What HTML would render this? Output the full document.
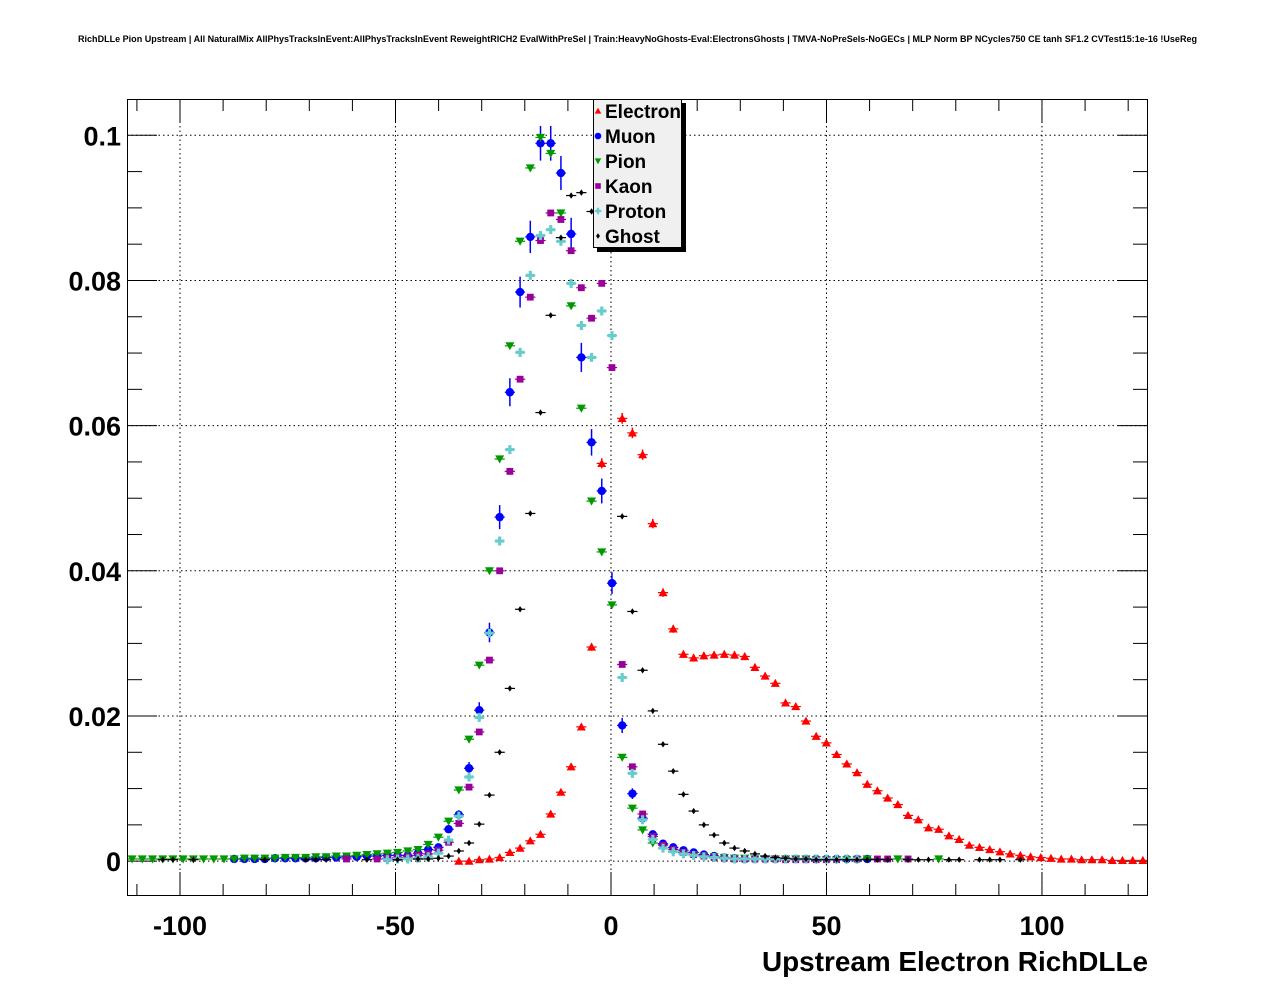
<!DOCTYPE html>
<html><head><meta charset="utf-8"><style>
html,body{margin:0;padding:0;background:#fff;}
svg{display:block;font-family:"Liberation Sans",sans-serif;}
</style></head><body>
<svg id="chart" width="1276" height="996" viewBox="0 0 1276 996" xmlns="http://www.w3.org/2000/svg">
<rect x="0" y="0" width="1276" height="996" fill="#fff"/>
<text x="78" y="42" font-size="9" font-weight="bold" textLength="1119" lengthAdjust="spacingAndGlyphs">RichDLLe Pion Upstream | All NaturalMix AllPhysTracksInEvent:AllPhysTracksInEvent ReweightRICH2 EvalWithPreSel | Train:HeavyNoGhosts-Eval:ElectronsGhosts | TMVA-NoPreSels-NoGECs | MLP Norm BP NCycles750 CE tanh SF1.2 CVTest15:1e-16 !UseReg</text>
<g id="grid"></g>
<g id="axes"></g>
<g id="marks"></g>
<rect x="127.5" y="99.5" width="1020" height="796" fill="none" stroke="#000" stroke-width="1"/>
<g id="legend">
<rect x="597" y="103" width="89" height="149" fill="#000"/>
<rect x="593.5" y="99.5" width="88" height="148" fill="#f0f0f0" stroke="#000"/>
</g>
<text x="1148" y="971" font-size="28" font-weight="bold" text-anchor="end" textLength="386" lengthAdjust="spacingAndGlyphs">Upstream Electron RichDLLe</text>
</svg>
<script>
// ---- data ----
const binCount = 100;
const xAxisMin = -112.3;
const xAxisMax = 124.6;
const yAxisMin = -0.0048;
const yAxisMax = 0.105;
const xTickValues = [-100, -50, 0, 50, 100];
const xTickLabels = ["-100", "-50", "0", "50", "100"];
const yTickValues = [0, 0.02, 0.04, 0.06, 0.08, 0.1];
const yTickLabels = ["0", "0.02", "0.04", "0.06", "0.08", "0.1"];
const seriesNames = ["Electron", "Muon", "Pion", "Kaon", "Proton", "Ghost"];

const electronStart = 32;
const electronValues = [0,0,0.0002,0.0003,0.0005,0.0012,0.0018,0.0028,0.0037,0.0065,0.0095,0.013,0.0185,0.0295,0.0548,null,
0.061,0.059,0.056,0.0465,0.037,0.032,0.0285,0.028,0.0283,0.0284,
0.0285,0.0284,0.0282,0.0267,0.0255,0.0245,0.0218,0.0213,0.0193,0.0172,
0.0163,0.0147,0.0134,0.0122,0.0106,0.0097,0.0087,0.0078,0.0063,0.0057,
0.0046,0.0044,0.0035,0.003,0.0022,0.0019,0.0016,0.0013,0.001,0.0008,
0.0006,0.0005,0.0004,0.0003,0.0003,0.0002,0.0002,0.0002,0.0001,0.0001,0.0001,0.0001];

const muonStart = 10;
const muonValues = [0.0003,0.0003,0.0003,0.0003,0.0004,0.0004,0.0004,0.0004,0.0004,0.0005,
0.0005,0.0006,0.0006,0.0007,0.0007,0.0008,0.0008,0.0008,0.0011,0.0016,
0.0019,0.0044,0.0064,0.0128,0.0208,0.0315,0.0474,0.0646,0.0784,0.086,
0.0989,0.0989,0.0948,0.0864,0.0694,0.0577,0.051,0.0383,0.0187,0.0093,
0.0059,0.0037,0.0024,0.0019,0.0015,0.0012,0.0009,0.0007,0.0005,0.0004,
0.0003,0.0003,0.0003,0.0003,0.0003,0.0003,0.0003,0.0003,0.0003,0.0003,0.0003,0.0003,0.0003];

const pionStart = 0;
const pionValues = [0.0003,0.0003,0.0003,0.0003,0.0003,0.0003,0.0003,0.0003,0.0003,0.0003,
0.0003,0.0004,0.0004,0.0004,0.0004,0.0005,0.0005,0.0005,0.0006,0.0006,
0.0007,0.0007,0.0008,0.0009,0.001,0.0011,0.0012,0.0014,0.0016,0.0023,
0.0033,0.0055,0.0098,0.0168,0.027,0.040,0.0554,0.071,0.0854,0.0955,
0.0997,0.0975,0.0893,0.0765,0.0624,0.0496,0.0426,0.0353,0.0143,0.0073,
0.0043,0.0025,0.0018,0.0013,0.001,0.0008,0.0007,0.0006,0.0005,0.0004,
0.0004,0.0003,0.0003,0.0003,0.0003,0.0003,0.0003,0.0002,0.0002,0.0002,
0.0002,0.0002,0.0003,null,null,0.0003,null,null,null,0.0003];

const kaonStart = 21;
const kaonValues = [0.0003,null,null,0.0003,0.0004,0.0005,0.0006,0.0008,0.001,
0.0015,0.0026,0.0052,0.0102,0.0178,0.0277,0.040,0.0537,0.0664,0.0777,
0.0855,0.0893,0.0884,0.0841,0.079,0.0748,0.0796,0.068,0.0271,0.013,
0.0065,0.0034,0.0022,0.0016,0.0012,0.0009,0.0007,0.0005,0.0004,0.0003,
0.0003,0.0003,0.0003,0.0003,0.0002,0.0002,0.0002,0.0002,0.0002,0.0002,
null,0.0003,null,0.0003,0.0003,null,0.0003];

const protonStart = 25;
const protonValues = [0.0002,0.0003,0.0003,0.0004,0.0006,
0.0011,0.0029,0.0062,0.0116,0.0198,0.0314,0.0441,0.0567,0.0701,0.0807,
0.0862,0.087,0.0854,0.0796,0.0738,0.0694,0.0758,0.0724,0.0253,0.0121,
0.0057,0.003,0.0018,0.0013,0.001,0.0008,0.0006,0.0005,0.0004,0.0003,
0.0003,0.0003,0.0003,0.0003,0.0003,0.0003,0.0003,0.0003,0.0003,0.0003,0.0003,0.0003];

const ghostStart = 3;
const ghostValues = [0.0002,0.0002,null,0.0002,null,null,null,null,null,null,
0.0002,null,null,null,0.0002,0.0002,0.0002,null,null,null,
0.0002,null,null,0.0002,null,0.0003,0.0003,0.0004,0.0007,0.0014,
0.0025,0.0051,0.0091,0.015,0.0238,0.0347,0.0479,0.0618,0.0752,0.0859,
0.0917,0.0921,0.0895,null,null,0.0475,0.0344,0.0263,0.0207,0.0161,
0.0124,0.0092,0.0069,0.005,0.0036,0.0025,0.0018,0.0014,0.001,0.0007,
0.0005,0.0004,0.0003,0.0003,0.0002,0.0002,0.0002,0.0002,0.0002,0.0002,
0.0002,0.0002,null,0.0002,0.0002,0.0002,null,0.0002,0.0002,null,
0.0002,0.0002,0.0002,null,0.0002];

// ---- layout ----
const NS = "http://www.w3.org/2000/svg";
const plotL = 127, plotR = 1148, plotT = 99, plotB = 896;
function xScale(v){ return plotL + (v - xAxisMin) / (xAxisMax - xAxisMin) * (plotR - plotL); }
function yScale(v){ return plotB - (v - yAxisMin) / (yAxisMax - yAxisMin) * (plotB - plotT); }
const binWidth = (xAxisMax - xAxisMin) / binCount;
function binCenter(i){ return xAxisMin + binWidth * (i + 0.5); }
function mk(tag, attrs, parent){
  const e = document.createElementNS(NS, tag);
  for (const k in attrs) e.setAttribute(k, attrs[k]);
  parent.appendChild(e);
  return e;
}
const grid = document.getElementById('grid');
const axes = document.getElementById('axes');
const marks = document.getElementById('marks');
const legend = document.getElementById('legend');

xTickValues.forEach(function(v){
  const l = mk('line', {x1:xScale(v), x2:xScale(v), y1:plotT, y2:plotB, stroke:'#000', 'stroke-width':1, 'stroke-dasharray':'1.5,3'}, grid);
  
  
});
yTickValues.forEach(function(v){
  const l = mk('line', {x1:plotL, x2:plotR, y1:yScale(v), y2:yScale(v), stroke:'#000', 'stroke-width':1, 'stroke-dasharray':'1.5,3'}, grid);
  
  
});
for (let v = -110; v <= 120; v += 10) {
  const major = (v % 50 === 0);
  const len = major ? 24 : 12;
  const x = xScale(v);
  const t1 = mk('line', {x1:x, x2:x, y1:plotB, y2:plotB - len, stroke:'#000'}, axes);
  
  
  const t2 = mk('line', {x1:x, x2:x, y1:plotT, y2:plotT + len, stroke:'#000'}, axes);
  
  
}
xTickValues.forEach(function(v, i){
  const t = mk('text', {x:xScale(v), y:935, 'font-size':27, 'font-weight':'bold', 'text-anchor':'middle'}, axes);
  t.textContent = xTickLabels[i];
  
  
});
for (let k = 0; k <= 20; k++) {
  const v = k * 0.005;
  const major = (k % 4 === 0);
  const len = major ? 30 : 15;
  const y = yScale(v);
  const t1 = mk('line', {x1:plotL, x2:plotL + len, y1:y, y2:y, stroke:'#000'}, axes);
  
  
  const t2 = mk('line', {x1:plotR, x2:plotR - len, y1:y, y2:y, stroke:'#000'}, axes);
  
  
}
yTickValues.forEach(function(v, i){
  const t = mk('text', {x:121, y:yScale(v) + 10, 'font-size':27, 'font-weight':'bold', 'text-anchor':'end'}, axes);
  t.textContent = yTickLabels[i];
  
  
});

function drawMarker(kind, color, cx, cy, parent, s){
  let m;
  if (kind === 'tri-up') m = mk('polygon', {points:(cx)+','+(cy-s)+' '+(cx-s)+','+(cy+s*0.8)+' '+(cx+s)+','+(cy+s*0.8), fill:color}, parent);
  else if (kind === 'circle') m = mk('circle', {cx:cx, cy:cy, r:s, fill:color}, parent);
  else if (kind === 'tri-down') m = mk('polygon', {points:(cx)+','+(cy+s)+' '+(cx-s)+','+(cy-s*0.8)+' '+(cx+s)+','+(cy-s*0.8), fill:color}, parent);
  else if (kind === 'square') m = mk('rect', {x:cx-s*0.85, y:cy-s*0.85, width:s*1.7, height:s*1.7, fill:color}, parent);
  else if (kind === 'cross') m = mk('path', {d:'M'+(cx-s)+' '+(cy-s*0.35)+'h'+(s*0.65)+'v-'+(s*0.65)+'h'+(s*0.7)+'v'+(s*0.65)+'h'+(s*0.65)+'v'+(s*0.7)+'h-'+(s*0.65)+'v'+(s*0.65)+'h-'+(s*0.7)+'v-'+(s*0.65)+'h-'+(s*0.65)+'z', fill:color}, parent);
  else m = mk('polygon', {points:cx+','+(cy-s)+' '+(cx+s*0.7)+','+cy+' '+cx+','+(cy+s)+' '+(cx-s*0.7)+','+cy, fill:color}, parent);
  return m;
}
const seriesList = [
  {name:'electron', start:electronStart, values:electronValues, color:'#ff0000', kind:'tri-up', size:4.5, err:0.003},
  {name:'muon', start:muonStart, values:muonValues, color:'#0000ff', kind:'circle', size:4.2, err:0.0076},
  {name:'pion', start:pionStart, values:pionValues, color:'#009900', kind:'tri-down', size:4.5, err:0.0013},
  {name:'kaon', start:kaonStart, values:kaonValues, color:'#990099', kind:'square', size:4, err:0.0012},
  {name:'proton', start:protonStart, values:protonValues, color:'#66cccc', kind:'cross', size:4.5, err:0.0012},
  {name:'ghost', start:ghostStart, values:ghostValues, color:'#000000', kind:'diamond', size:3.2, err:0.0008}
];
const halfBinPx = (xScale(binWidth) - xScale(0)) / 2;
seriesList.forEach(function(s){
  const g = mk('g', {}, marks);
  
  
  s.values.forEach(function(v, j){
    if (v === null) return;
    const cx = xScale(binCenter(s.start + j));
    const cy = yScale(v);
    const e = Math.sqrt(v) * s.err;
    const h = mk('line', {x1:cx - halfBinPx, x2:cx + halfBinPx, y1:cy, y2:cy, stroke:s.color, 'stroke-width':1.2}, g);
    
    
    const vl = mk('line', {x1:cx, x2:cx, y1:yScale(v + e), y2:yScale(v - e), stroke:s.color, 'stroke-width':1.5}, g);
    
    
    const m = drawMarker(s.kind, s.color, cx, cy, g, s.size);
    
    
  });
});

seriesList.forEach(function(s, i){
  const y = 111 + i * 25;
  const m = drawMarker(s.kind, s.color, 598, y, legend, s.kind === 'diamond' ? 2.8 : 3.3);
  
  
  const t = mk('text', {x:605, y:y + 7, 'font-size':19, 'font-weight':'bold'}, legend);
  t.textContent = seriesNames[i];
  
  
});
</script>
</body></html>
